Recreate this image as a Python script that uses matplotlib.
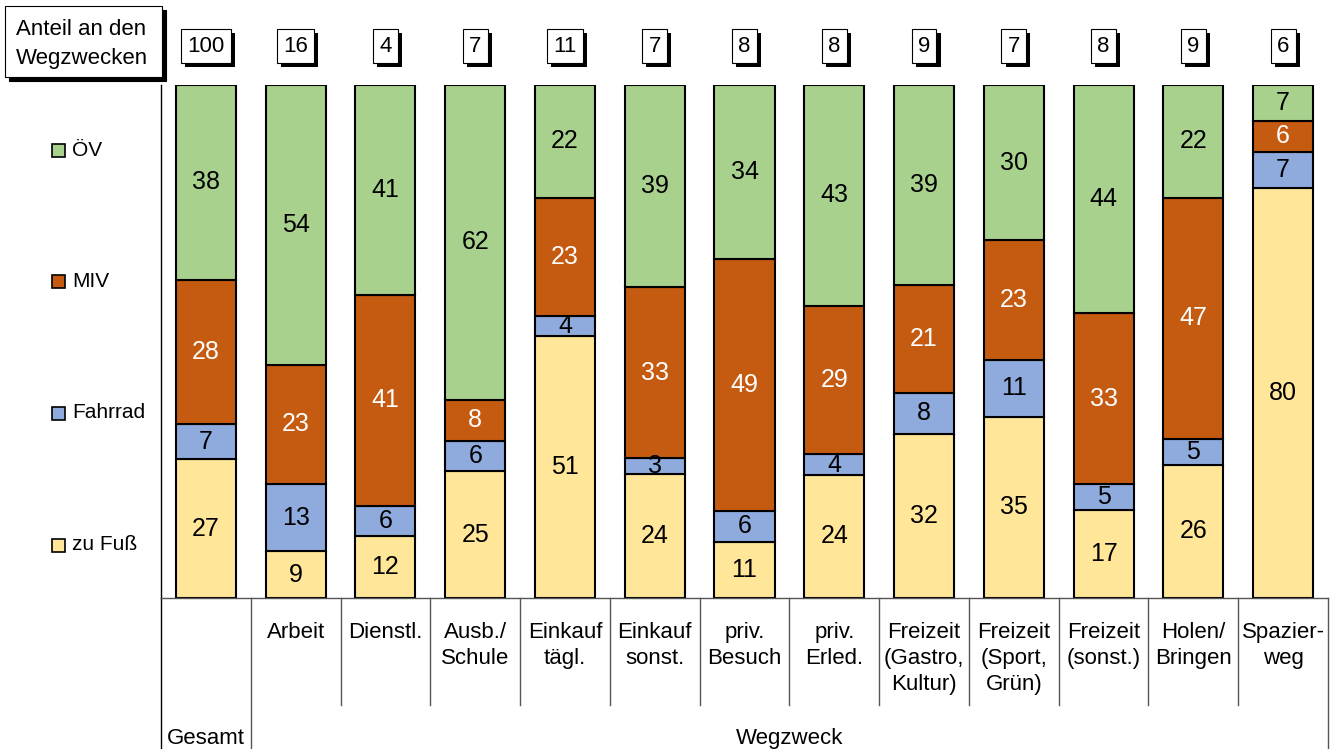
import numpy as np
import matplotlib
matplotlib.use("Agg")
import matplotlib.pyplot as plt
import matplotlib.patheffects as pe
from matplotlib.patches import Rectangle

plt.rcParams['font.family'] = ['Liberation Sans', 'DejaVu Sans']

# ── Daten ──
kategorien = ['', 'Arbeit', 'Dienstl.', 'Ausb./\nSchule', 'Einkauf\ntägl.', 'Einkauf\nsonst.',
              'priv.\nBesuch', 'priv.\nErled.', 'Freizeit\n(Gastro,\nKultur)', 'Freizeit\n(Sport,\nGrün)',
              'Freizeit\n(sonst.)', 'Holen/\nBringen', 'Spazier-\nweg']
anteil_wegzwecke = [100, 16, 4, 7, 11, 7, 8, 8, 9, 7, 8, 9, 6]

zu_fuss = [27, 9, 12, 25, 51, 24, 11, 24, 32, 35, 17, 26, 80]
fahrrad = [7, 13, 6, 6, 4, 3, 6, 4, 8, 11, 5, 5, 7]
miv = [28, 23, 41, 8, 23, 33, 49, 29, 21, 23, 33, 47, 6]
oev = [38, 54, 41, 62, 22, 39, 34, 43, 39, 30, 44, 22, 7]

serien = ['zu Fuß', 'Fahrrad', 'MIV', 'ÖV']
farben = ['#FFE699', '#8FAADC', '#C55A11', '#A9D18E']
textfarben = ['black', 'black', 'white', 'black']

W, H = 1334, 749
fig = plt.figure(figsize=(W / 100, H / 100), dpi=100)
ax = fig.add_axes([161 / W, (H - 598) / H, (1328 - 161) / W, 513 / H])

werte = np.array([zu_fuss, fahrrad, miv, oev], dtype=float)
hoehen = werte / werte.sum(axis=0) * 100  # auf 100 % normiert
x = np.arange(len(kategorien))
unten = np.zeros(len(x))
for i in range(4):
    ax.bar(x, hoehen[i], 0.67, bottom=unten, color=farben[i], edgecolor='black', linewidth=1.5)
    for j in range(len(x)):
        ax.text(x[j], unten[j] + hoehen[i][j] / 2, f"{int(werte[i][j])}", ha='center', va='center',
                fontsize=18, color=textfarben[i])
    unten += hoehen[i]

ax.set_xlim(-0.5, len(x) - 0.5)
ax.set_ylim(0, 100)
for s in ['top', 'right']:
    ax.spines[s].set_visible(False)
ax.spines['left'].set_linewidth(1)
ax.spines['bottom'].set_linewidth(1)
ax.spines['bottom'].set_color('#555555')
ax.set_xticks([])
ax.set_yticks([])

# ── untere Beschriftung ──
tr = ax.get_xaxis_transform()
for j in range(1, len(x)):
    unten_y = -0.294 if j == 1 else -0.2086
    ax.plot([j - 0.5, j - 0.5], [0, unten_y], color='#555555', lw=1, transform=tr, clip_on=False)
ax.plot([-0.5, -0.5], [0, -0.294], color='black', lw=1, transform=tr, clip_on=False)
ax.plot([len(x) - 0.5, len(x) - 0.5], [0, -0.294], color='#555555', lw=1, transform=tr, clip_on=False)
for j in range(1, len(x)):
    ax.text(x[j], -0.046, kategorien[j], transform=tr, ha='center', va='top', fontsize=16,
            linespacing=1.33)
ax.text(0, -0.273, 'Gesamt', transform=tr, ha='center', va='center', fontsize=16)
ax.text((len(x) - 1) / 2 + 0.5, -0.273, 'Wegzweck', transform=tr, ha='center', va='center', fontsize=16)

# ── Anteil-Kästchen oben (mit Schatten) ──
schatten = [pe.SimplePatchShadow(offset=(3, -3), shadow_rgbFace='black', alpha=1.0), pe.Normal()]
for j in range(len(x)):
    t = ax.text(x[j], 1.076, str(anteil_wegzwecke[j]), transform=tr, ha='center', va='center',
                fontsize=16, clip_on=False,
                bbox=dict(boxstyle='square,pad=0.28', fc='white', ec='black', lw=0.8))
    t.get_bbox_patch().set_path_effects(schatten)

# ── Titelkasten ──
fig.add_artist(Rectangle((9 / W, 1 - 81 / H), 157 / W, 71 / H, transform=fig.transFigure,
                         fc='black', ec='black', lw=0.8))
fig.add_artist(Rectangle((5 / W, 1 - 77 / H), 157 / W, 71 / H, transform=fig.transFigure,
                         fc='white', ec='black', lw=0.8))
fig.text(16 / W, 1 - 44 / H, 'Anteil an den\nWegzwecken', ha='left', va='center',
         fontsize=16, linespacing=1.5)

# ── Legende ──
for i, yy in zip(range(4), [545, 413, 281, 150]):
    fig.add_artist(Rectangle((52 / W, 1 - (yy + 7) / H), 13 / W, 13 / H, transform=fig.transFigure,
                             fc=farben[i], ec='black', lw=1.2))
    fig.text(72 / W, 1 - yy / H, serien[i], ha='left', va='center', fontsize=15)

plt.savefig('out.png', dpi=100)
plt.close()
